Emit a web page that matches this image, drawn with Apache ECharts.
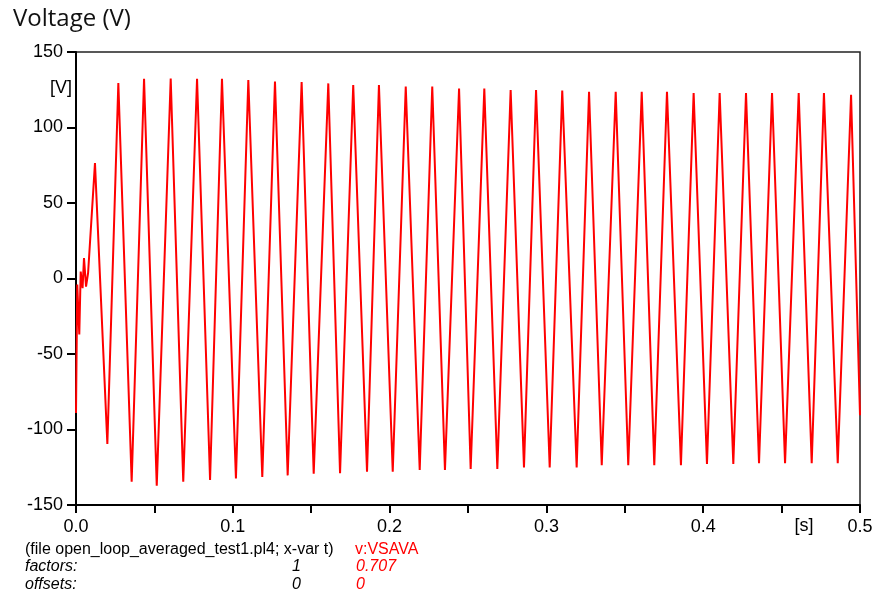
<!DOCTYPE html>
<html>
<head>
<meta charset="utf-8">
<script src="https://cdn.jsdelivr.net/npm/echarts@6/dist/echarts.min.js"></script>
<style>
html,body{margin:0;padding:0;background:#fff;}
#chart{width:876px;height:594px;}
</style>
</head>
<body>
<div id="chart"></div>
<script>
// ---- data ----
// start-up transient (time in s, voltage in V)
const transientTimes  = [0.0000, 0.0008, 0.0021, 0.0030, 0.0042, 0.0051, 0.0064, 0.0077, 0.0085, 0.0121];
const transientValues = [-89, -4, -37, 4.6, -6.4, 13.5, -5.4, 3.5, 4.6, 76.4];
// positive peaks
const peakTimes  = [0.0270, 0.0434, 0.0604, 0.0772, 0.0931, 0.1099, 0.1269, 0.1439, 0.1609, 0.1768,
                    0.1932, 0.2103, 0.2272, 0.2443, 0.2604, 0.2772, 0.2934, 0.3101, 0.3272, 0.3442,
                    0.3608, 0.3769, 0.3939, 0.4105, 0.4273, 0.4439, 0.4609, 0.4770, 0.4943];
const peakValues = [129.4, 132.3, 132.5, 132.3, 132.3, 131.4, 130.5, 130.1, 129.2, 128.1,
                    128.1, 127.2, 127.2, 125.8, 125.8, 124.8, 124.8, 124.5, 123.7, 123.7,
                    123.7, 123.7, 122.8, 122.8, 122.8, 122.8, 122.8, 122.8, 121.7];
// negative troughs
const troughTimes  = [0.0200, 0.0355, 0.0515, 0.0684, 0.0855, 0.1020, 0.1188, 0.1350, 0.1516, 0.1684,
                      0.1856, 0.2020, 0.2192, 0.2353, 0.2517, 0.2687, 0.2857, 0.3021, 0.3193, 0.3353,
                      0.3522, 0.3688, 0.3858, 0.4024, 0.4192, 0.4356, 0.4522, 0.4692, 0.4858];
const troughValues = [-109.6, -134.6, -137.2, -134.6, -133.5, -132.4, -131.5, -130.4, -129.3, -129.0,
                      -128.0, -128.0, -126.8, -126.8, -126.2, -126.2, -125.1, -125.1, -125.1, -123.7,
                      -123.7, -123.7, -123.7, -122.9, -122.9, -122.4, -122.4, -122.4, -122.4];
// last sample
const endTimes  = [0.5000];
const endValues = [-90.5];

const xTicks = ['0.0', '0.1', '0.2', '0.3', '0.4', '0.5'];
const yTicks = [-150, -100, -50, 0, 50, 100, 150];

// ---- build series ----
const pts = [];
function addPts(ts, vs){ for (let i = 0; i < ts.length; i++) pts.push([ts[i], vs[i]]); }
addPts(transientTimes, transientValues);
addPts(peakTimes, peakValues);
addPts(troughTimes, troughValues);
addPts(endTimes, endValues);
pts.sort((a, b) => a[0] - b[0]);

const chart = echarts.init(document.getElementById('chart'), null, {renderer: 'canvas'});
const labelFont = {color: '#000', fontFamily: 'Liberation Sans, Arial, sans-serif', fontSize: 18};
const noteFont = '16px "Liberation Sans", Arial, sans-serif';
const noteItalic = 'italic 16px "Liberation Sans", Arial, sans-serif';

chart.setOption({
  animation: false,
  backgroundColor: '#fff',
  grid: {left: 76, right: 16, top: 52, bottom: 89, show: true, borderColor: '#222', borderWidth: 1.5, backgroundColor: 'transparent'},
  xAxis: {
    type: 'value', min: 0, max: 0.5, interval: 0.05,
    axisLine: {show: true, onZero: false, lineStyle: {color: '#000', width: 2}},
    axisTick: {show: true, inside: false, length: 8, lineStyle: {color: '#000', width: 2}},
    splitLine: {show: false},
    axisLabel: Object.assign({
      margin: 13, showMinLabel: true, showMaxLabel: true,
      formatter: function (v) {
        const k = Math.round(v * 100);
        if (k % 10 !== 0) return '';
        return xTicks.indexOf(v.toFixed(1)) >= 0 ? v.toFixed(1) : '';
      }
    }, labelFont)
  },
  yAxis: {
    type: 'value', min: -150, max: 150, interval: 50,
    axisLine: {show: true, lineStyle: {color: '#000', width: 2}},
    axisTick: {show: true, inside: false, length: 9, lineStyle: {color: '#000', width: 2}},
    splitLine: {show: false},
    axisLabel: Object.assign({
      margin: 13,
      formatter: function (v) { return yTicks.indexOf(v) >= 0 ? String(v) : ''; }
    }, labelFont)
  },
  series: [{
    type: 'line',
    data: pts,
    showSymbol: false,
    lineStyle: {color: '#ff0000', width: 2},
    itemStyle: {color: '#ff0000'}
  }],
  graphic: [
    {type: 'text', left: 13, top: 7, style: {text: 'Voltage (V)', font: '24px "Open Sans", sans-serif', fill: '#111'}},
    {type: 'text', x: 72, y: 88, style: {text: '[V]', font: '18px "Liberation Sans", Arial, sans-serif', fill: '#000', align: 'right', verticalAlign: 'middle'}},
    {type: 'text', x: 804, y: 526, style: {text: '[s]', font: '18px "Liberation Sans", Arial, sans-serif', fill: '#000', align: 'center', verticalAlign: 'middle'}},
    {type: 'text', x: 25, y: 550, style: {text: '(file open_loop_averaged_test1.pl4; x-var t)', font: noteFont, fill: '#000', verticalAlign: 'middle'}},
    {type: 'text', x: 355, y: 550, style: {text: 'v:VSAVA', font: noteFont, fill: '#ff0000', verticalAlign: 'middle'}},
    {type: 'text', x: 25, y: 567, style: {text: 'factors:', font: noteItalic, fill: '#000', verticalAlign: 'middle'}},
    {type: 'text', x: 292, y: 567, style: {text: '1', font: noteItalic, fill: '#000', verticalAlign: 'middle'}},
    {type: 'text', x: 356, y: 567, style: {text: '0.707', font: noteItalic, fill: '#ff0000', verticalAlign: 'middle'}},
    {type: 'text', x: 25, y: 585, style: {text: 'offsets:', font: noteItalic, fill: '#000', verticalAlign: 'middle'}},
    {type: 'text', x: 292, y: 585, style: {text: '0', font: noteItalic, fill: '#000', verticalAlign: 'middle'}},
    {type: 'text', x: 356, y: 585, style: {text: '0', font: noteItalic, fill: '#ff0000', verticalAlign: 'middle'}}
  ]
});
</script>
</body>
</html>
